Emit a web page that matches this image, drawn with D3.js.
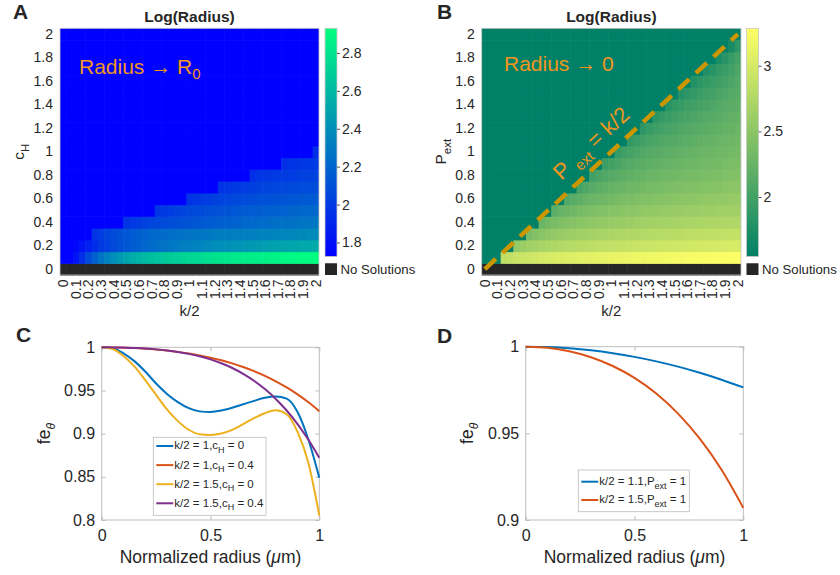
<!DOCTYPE html>
<html>
<head>
<meta charset="utf-8">
<script src="https://cdn.jsdelivr.net/npm/d3@7"></script>
<style>
  body { margin: 0; background: #fff; }
  text { font-family: "Liberation Sans", Arial, Helvetica, sans-serif; fill: #262626; }
</style>
</head>
<body>
<script>
// ---- data -------------------------------------------------------------
// heatmap grid: k/2 columns (0..2 by 0.05), c_H / P_ext rows (0..2 by 0.1)
const kHalf = [0,0.05,0.1,0.15,0.2,0.25,0.3,0.35,0.4,0.45,0.5,0.55,0.6,0.65,0.7,0.75,0.8,0.85,0.9,0.95,
  1,1.05,1.1,1.15,1.2,1.25,1.3,1.35,1.4,1.45,1.5,1.55,1.6,1.65,1.7,1.75,1.8,1.85,1.9,1.95,2];
const rowLevels = [0,0.1,0.2,0.3,0.4,0.5,0.6,0.7,0.8,0.9,1,1.1,1.2,1.3,1.4,1.5,1.6,1.7,1.8,1.9,2];
const kTicks = [0,0.1,0.2,0.3,0.4,0.5,0.6,0.7,0.8,0.9,1,1.1,1.2,1.3,1.4,1.5,1.6,1.7,1.8,1.9,2];
const rowTicks = [0,0.2,0.4,0.6,0.8,1,1.2,1.4,1.6,1.8,2];

// panel A: log(radius) vs k/2 and c_H. Row 0 = no solutions.
// each row lists its values up to k/2 = 2 (right aligned); cells further left sit at the R0 plateau
const plateauA = 1.726;
const rangeA = [1.726, 2.93];
const ticksA = [1.8, 2, 2.2, 2.4, 2.6, 2.8];
const logRadiusA = [
  [1.73,1.73,1.82,1.95,2.08,2.18,2.27,2.34,2.40,2.45,2.50,2.54,2.57,2.60,2.63,2.65,2.67,2.69,2.71,2.72,
   2.74,2.75,2.76,2.78,2.79,2.80,2.81,2.82,2.83,2.84,2.85,2.86,2.86,2.87,2.88,2.89,2.90,2.90,2.91,2.92,2.93], // c_H 0.1
  [1.73,1.73,1.76,1.82,1.88,1.94,1.99,2.03,2.07,2.10,2.13,2.16,2.18,2.21,2.23,2.25,2.27,2.29,2.30,2.32,
   2.33,2.35,2.36,2.37,2.39,2.40,2.41,2.42,2.43,2.44,2.45,2.46,2.47,2.48,2.49,2.50,2.50,2.51,2.52,2.53,2.54], // 0.2
  [1.97,2.01,2.05,2.08,2.11,2.13,2.15,2.17,2.19,2.21,2.22,2.23,2.24,2.25,2.26,2.27,2.28,2.29,2.29,2.30,
   2.31,2.31,2.32,2.32,2.33,2.33,2.34,2.34,2.35,2.35,2.36,2.36,2.37,2.37,2.38,2.38], // 0.3
  [1.97,1.99,2.01,2.03,2.05,2.06,2.08,2.09,2.10,2.11,2.12,2.13,2.14,2.15,2.16,2.17,2.18,2.19,2.20,2.21,
   2.22,2.23,2.23,2.24,2.25,2.26,2.26,2.27,2.28,2.28,2.29], // 0.4
  [1.97,1.99,2.01,2.03,2.04,2.06,2.07,2.08,2.09,2.10,2.11,2.12,2.13,2.14,2.15,2.16,2.16,2.17,2.18,2.18,
   2.19,2.20,2.20,2.21,2.21,2.22], // 0.5
  [1.96,1.98,2.00,2.01,2.03,2.04,2.05,2.06,2.07,2.08,2.09,2.10,2.10,2.11,2.12,2.12,2.13,2.13,2.14,2.14,2.15], // 0.6
  [1.96,1.98,1.99,2.00,2.01,2.02,2.03,2.04,2.05,2.05,2.06,2.07,2.07,2.08,2.08,2.09], // 0.7
  [1.95,1.97,1.98,1.99,2.00,2.01,2.01,2.02,2.03,2.03,2.04], // 0.8
  [1.95,1.96,1.97,1.98,1.99,2.00], // 0.9
  [1.95] // 1.0
];

// panel B: log(radius) vs k/2 and P_ext; teal plateau above P_ext = k/2
const plateauB = 1.547;
const rangeB = [1.547, 3.285];
const ticksB = [2, 2.5, 3];
const logRadiusB = [
  [2.85,2.88,2.91,2.93,2.95,2.97,2.99,3.01,3.02,3.04,3.05,3.06,3.08,3.09,3.10,3.11,3.12,3.13,3.14,3.15,
   3.16,3.17,3.18,3.19,3.19,3.20,3.21,3.22,3.22,3.23,3.24,3.24,3.25,3.26,3.26,3.27,3.27,3.28], // P 0.1
  [2.55,2.60,2.64,2.67,2.70,2.72,2.74,2.76,2.78,2.79,2.81,2.82,2.83,2.85,2.86,2.87,2.88,2.89,2.90,2.91,
   2.92,2.93,2.94,2.94,2.95,2.96,2.97,2.97,2.98,2.99,2.99,3.00,3.00,3.01,3.01,3.02], // 0.2
  [2.38,2.44,2.48,2.52,2.55,2.58,2.60,2.62,2.64,2.66,2.67,2.69,2.70,2.71,2.72,2.74,2.75,2.76,2.77,2.78,
   2.79,2.79,2.80,2.81,2.82,2.83,2.83,2.84,2.85,2.85,2.86,2.86,2.87,2.87], // 0.3
  [2.27,2.33,2.37,2.41,2.44,2.47,2.49,2.51,2.53,2.55,2.56,2.58,2.59,2.60,2.62,2.63,2.64,2.65,2.66,2.67,
   2.68,2.69,2.69,2.70,2.71,2.72,2.72,2.73,2.73,2.74,2.74,2.75], // 0.4
  [2.18,2.24,2.28,2.32,2.35,2.38,2.40,2.42,2.44,2.46,2.47,2.49,2.50,2.51,2.53,2.54,2.55,2.56,2.57,2.58,
   2.59,2.60,2.60,2.61,2.62,2.62,2.63,2.64,2.64,2.65], // 0.5
  [2.10,2.16,2.20,2.24,2.27,2.30,2.32,2.34,2.36,2.38,2.39,2.41,2.42,2.43,2.45,2.46,2.47,2.48,2.49,2.50,
   2.51,2.52,2.53,2.54,2.55,2.55,2.56,2.57], // 0.6
  [2.04,2.10,2.14,2.18,2.21,2.24,2.26,2.28,2.30,2.32,2.33,2.35,2.36,2.37,2.39,2.40,2.41,2.42,2.43,2.44,
   2.45,2.46,2.47,2.48,2.49,2.50], // 0.7
  [1.99,2.05,2.09,2.13,2.16,2.19,2.21,2.23,2.25,2.27,2.28,2.30,2.31,2.32,2.34,2.35,2.36,2.37,2.38,2.39,
   2.40,2.42,2.43,2.44], // 0.8
  [1.95,2.01,2.05,2.09,2.12,2.15,2.17,2.19,2.21,2.23,2.24,2.26,2.27,2.29,2.30,2.32,2.33,2.34,2.35,2.37,
   2.38,2.39], // 0.9
  [1.92,1.98,2.02,2.06,2.09,2.12,2.14,2.16,2.18,2.20,2.22,2.23,2.25,2.26,2.28,2.29,2.31,2.32,2.34,2.35], // 1.0
  [1.89,1.95,1.99,2.03,2.06,2.09,2.11,2.13,2.15,2.17,2.19,2.21,2.23,2.24,2.26,2.28,2.29,2.31], // 1.1
  [1.86,1.92,1.96,2.00,2.03,2.06,2.09,2.11,2.13,2.15,2.17,2.19,2.21,2.23,2.25,2.27], // 1.2
  [1.84,1.90,1.94,1.98,2.01,2.04,2.07,2.09,2.12,2.14,2.16,2.18,2.21,2.23], // 1.3
  [1.82,1.88,1.92,1.96,1.99,2.02,2.05,2.08,2.11,2.14,2.16,2.19], // 1.4
  [1.80,1.86,1.90,1.94,1.98,2.01,2.05,2.08,2.12,2.15], // 1.5
  [1.78,1.84,1.89,1.93,1.97,2.02,2.06,2.11], // 1.6
  [1.76,1.82,1.88,1.94,2.00,2.07], // 1.7
  [1.74,1.83,1.92,2.02], // 1.8
  [1.72,1.85] // 1.9
];

// panel C: fe_theta vs normalized radius
const radiusC = [0,0.05,0.1,0.15,0.2,0.25,0.3,0.35,0.4,0.45,0.5,0.55,0.6,0.65,0.7,0.75,0.8,0.85,0.9,0.95,1];
const feK1c0 =   [1,0.999,0.993,0.984,0.972,0.958,0.946,0.9365,0.9295,0.9258,0.9252,0.9268,0.9300,0.934,0.938,0.9415,0.943,0.9405,0.925,0.893,0.849];
const feK1c04 =  [1,0.9999,0.9996,0.9991,0.9984,0.9974,0.9962,0.9947,0.9928,0.9906,0.988,0.9849,0.9814,0.9772,0.9724,0.9669,0.9606,0.9535,0.9454,0.9363,0.926];
const feK15c0 =  [1,0.998,0.990,0.978,0.962,0.945,0.928,0.9145,0.9045,0.8993,0.8985,0.9002,0.9043,0.911,0.918,0.9237,0.927,0.9225,0.902,0.866,0.805];
const feK15c04 = [1,0.9999,0.9997,0.9992,0.9986,0.9976,0.9963,0.9946,0.9924,0.9896,0.986,0.9815,0.976,0.9693,0.9613,0.9516,0.9402,0.9268,0.9111,0.8929,0.872];
const labelsC = [["k/2 = 1,c", "H", " = 0"], ["k/2 = 1,c", "H", " = 0.4"], ["k/2 = 1.5,c", "H", " = 0"], ["k/2 = 1.5,c", "H", " = 0.4"]];

// panel D
const radiusD = [0,0.1,0.2,0.3,0.4,0.5,0.6,0.7,0.8,0.9,1];
const feK11P1 = [1,0.99977,0.99906,0.99789,0.99624,0.99413,0.99154,0.98849,0.98496,0.98097,0.9765];
const feK15P1 = [1,0.99934,0.99735,0.99391,0.98887,0.98198,0.97295,0.9614,0.9469,0.92896,0.907];
const labelsD = [["k/2 = 1.1,P", "ext", " = 1"], ["k/2 = 1.5,P", "ext", " = 1"]];

const lineColors = ["#0072BD", "#D95319", "#EDB120", "#7E2F8E"];
const ORANGE = "#F0961E";

// ---- drawing ----------------------------------------------------------
const svg = d3.select("body").append("svg").attr("width", 840).attr("height", 575);
const defs = svg.append("defs");

const winter = t => d3.rgb(0, 255 * t, 255 * (1 - 0.5 * t)).toString();
const summer = t => d3.rgb(255 * t, 255 * (0.5 + 0.5 * t), 102).toString();

// text with a subscript part: parts = [main, sub, rest]
function subText(sel, parts, size, subSize, italicSub) {
  sel.append("tspan").text(parts[0]);
  const s = sel.append("tspan").attr("font-size", subSize).attr("dy", size * 0.3).text(parts[1]);
  if (italicSub) s.attr("font-style", "italic");
  if (parts[2]) sel.append("tspan").attr("dy", -size * 0.3).text(parts[2]);
}

function drawHeatmap(o) {
  const g = svg.append("g");
  const x = d3.scaleBand().domain(kHalf).range([o.left, o.right]);
  const y = d3.scaleBand().domain(rowLevels).range([o.bottom, o.top]);
  const t = d3.scaleLinear().domain(o.range).range([0, 1]).clamp(true);

  const cells = [];
  rowLevels.forEach((r, i) => {
    const vals = i === 0 ? null : (o.rows[i - 1] || []);
    kHalf.forEach((k, j) => {
      let v = null;
      if (vals) {
        const off = kHalf.length - vals.length;
        v = j >= off ? vals[j - off] : o.plateau;
      }
      cells.push({ k: k, r: r, v: v });
    });
  });

  g.selectAll("rect.cell").data(cells).join("rect")
    .attr("class", "cell")
    .attr("x", d => x(d.k))
    .attr("y", d => y(d.r))
    .attr("width", d => x.bandwidth() + (d.k === 2 ? 0 : 0.6))
    .attr("height", d => y.bandwidth() + (d.r === 2 ? 0 : 0.6))
    .attr("fill", d => d.v === null ? "#262626" : o.cmap(t(d.v)));

  g.append("rect")
    .attr("x", o.left).attr("y", o.top)
    .attr("width", o.right - o.left).attr("height", o.bottom - o.top)
    .attr("fill", "none").attr("stroke", "#c8c8c8").attr("stroke-width", 0.8);

  // y axis
  const ya = g.append("g").attr("transform", `translate(${o.left},0)`)
    .call(d3.axisLeft(y).tickValues(rowTicks).tickSize(0).tickPadding(7).tickFormat(d => String(d)));
  ya.select(".domain").remove();
  ya.selectAll("text").attr("font-size", 14).attr("font-family", null);

  // x axis, labels rotated
  const xa = g.append("g").attr("transform", `translate(0,${o.bottom})`)
    .call(d3.axisBottom(x).tickValues(kTicks).tickSize(0).tickFormat(d => String(d)));
  xa.select(".domain").remove();
  xa.selectAll("text")
    .attr("font-size", 14).attr("font-family", null)
    .attr("transform", "rotate(-90)")
    .attr("text-anchor", "end")
    .attr("x", -4.5).attr("y", 0).attr("dy", "0.35em");

  g.append("text").attr("x", (o.left + o.right) / 2).attr("y", 316)
    .attr("text-anchor", "middle").attr("font-size", 15).text("k/2");

  // y label
  const yl = g.append("text")
    .attr("transform", `translate(${o.yLabelX},${(o.top + o.bottom) / 2}) rotate(-90)`)
    .attr("text-anchor", "middle").attr("font-size", 15.5);
  subText(yl, o.yLabel, 15.5, 11.5, false);

  // title
  g.append("text").attr("x", (o.left + o.right) / 2).attr("y", 22)
    .attr("text-anchor", "middle").attr("font-size", 15.5).attr("font-weight", "bold")
    .text("Log(Radius)");

  // panel letter
  g.append("text").attr("x", o.letterX).attr("y", 18.5)
    .attr("font-size", 21).attr("font-weight", "bold").text(o.letter);

  // colorbar
  const cbTop = o.top, cbBottom = 256.5, cbW = 12;
  const gid = "grad" + o.letter;
  const grad = defs.append("linearGradient").attr("id", gid)
    .attr("x1", 0).attr("y1", 1).attr("x2", 0).attr("y2", 0);
  grad.append("stop").attr("offset", 0).attr("stop-color", o.cmap(0));
  grad.append("stop").attr("offset", 1).attr("stop-color", o.cmap(1));
  g.append("rect").attr("x", o.cbX).attr("y", cbTop).attr("width", cbW).attr("height", cbBottom - cbTop)
    .attr("fill", `url(#${gid})`).attr("stroke", "#c8c8c8").attr("stroke-width", 0.8);
  const cy = d3.scaleLinear().domain(o.range).range([cbBottom, cbTop]);
  const cb = g.append("g").attr("transform", `translate(${o.cbX + cbW},0)`)
    .call(d3.axisRight(cy).tickValues(o.ticks).tickSize(3).tickPadding(2).tickFormat(d => String(d)));
  cb.select(".domain").remove();
  cb.selectAll("line").attr("stroke", "#555");
  cb.selectAll("text").attr("font-size", 14).attr("font-family", null);

  // no-solutions key
  g.append("rect").attr("x", o.cbX).attr("y", y(0)).attr("width", cbW).attr("height", y.bandwidth())
    .attr("fill", "#262626");
  g.append("text").attr("x", o.cbX + cbW + 3.5).attr("y", y(0) + y.bandwidth() / 2).attr("dy", "0.35em")
    .attr("font-size", 13.2).text("No Solutions");

  return { x: x, y: y, g: g };
}

const hA = drawHeatmap({
  letter: "A", letterX: 13, left: 60, right: 319, top: 28.3, bottom: 275,
  rows: logRadiusA, plateau: plateauA, range: rangeA, ticks: ticksA, cmap: winter,
  cbX: 325, yLabel: ["c", "H", ""], yLabelX: 24
});

const hB = drawHeatmap({
  letter: "B", letterX: 437, left: 481.7, right: 741, top: 28.3, bottom: 275,
  rows: logRadiusB, plateau: plateauB, range: rangeB, ticks: ticksB, cmap: summer,
  cbX: 746.5, yLabel: ["P", "ext", ""], yLabelX: 446
});

// annotations
const tA = hA.g.append("text").attr("x", 79).attr("y", 74).attr("font-size", 21).style("fill", ORANGE);
tA.append("tspan").text("Radius \u2192 R");
tA.append("tspan").attr("font-size", 15).attr("dy", 5).text("0");

hB.g.append("text").attr("x", 504).attr("y", 71).attr("font-size", 21).style("fill", ORANGE)
  .text("Radius \u2192 0");

// P_ext = k/2 dashed line
const cx = k => hB.x(k) + hB.x.bandwidth() / 2;
const cyB = p => hB.y(p) + hB.y.bandwidth() / 2;
hB.g.append("line")
  .attr("x1", cx(0)).attr("y1", cyB(0)).attr("x2", cx(2)).attr("y2", cyB(2))
  .attr("stroke", "#CC9600").attr("stroke-width", 4.5).attr("stroke-dasharray", "15,9");
const ang = Math.atan2(cyB(2) - cyB(0), cx(2) - cx(0)) * 180 / Math.PI;
const diag = hB.g.append("text")
  .attr("transform", `translate(591,143) rotate(${ang})`)
  .attr("text-anchor", "middle").attr("dy", "0.35em").attr("font-size", 22).style("fill", ORANGE);
diag.append("tspan").text("P ");
diag.append("tspan").attr("font-size", 15).attr("dy", 6).text("ext");
diag.append("tspan").attr("dy", -6).text(" = k/2");

// ---- line panels ------------------------------------------------------
function drawLines(o) {
  const g = svg.append("g");
  const x = d3.scaleLinear().domain([0, 1]).range([o.left, o.right]);
  const y = d3.scaleLinear().domain(o.yDomain).range([o.bottom, o.top]);
  const axisColor = "#bdbdbd";

  g.append("rect").attr("x", o.left).attr("y", o.top)
    .attr("width", o.right - o.left).attr("height", o.bottom - o.top)
    .attr("fill", "none").attr("stroke", axisColor).attr("stroke-width", 1);

  const fmt = d => String(d);
  const left = g.append("g").attr("transform", `translate(${o.left},0)`)
    .call(d3.axisLeft(y).tickValues(o.yTicks).tickSize(-4).tickPadding(6.5).tickFormat(fmt));
  const bottom = g.append("g").attr("transform", `translate(0,${o.bottom})`)
    .call(d3.axisBottom(x).tickValues([0, 0.5, 1]).tickSize(-4).tickPadding(10).tickFormat(fmt));
  const right = g.append("g").attr("transform", `translate(${o.right},0)`)
    .call(d3.axisRight(y).tickValues(o.yTicks).tickSize(-4).tickFormat(""));
  const top = g.append("g").attr("transform", `translate(0,${o.top})`)
    .call(d3.axisTop(x).tickValues([0, 0.5, 1]).tickSize(-4).tickFormat(""));
  [left, bottom, right, top].forEach(a => {
    a.select(".domain").remove();
    a.selectAll("line").attr("stroke", axisColor);
    a.selectAll("text").attr("font-size", 16).attr("font-family", null);
  });

  const line = d3.line().x(d => x(d[0])).y(d => y(d[1])).curve(d3.curveMonotoneX);
  o.series.forEach((s, i) => {
    g.append("path").datum(o.xs.map((v, j) => [v, s[j]]))
      .attr("d", line).attr("fill", "none")
      .attr("stroke", lineColors[i]).attr("stroke-width", 2);
  });

  // axis labels
  const xl = g.append("text").attr("x", (o.left + o.right) / 2).attr("y", 563)
    .attr("text-anchor", "middle").attr("font-size", 17.5);
  xl.append("tspan").text("Normalized radius (");
  xl.append("tspan").attr("font-style", "italic").text("\u03bc");
  xl.append("tspan").text("m)");

  const yl = g.append("text")
    .attr("transform", `translate(${o.yLabelX},${(o.top + o.bottom) / 2}) rotate(-90)`)
    .attr("text-anchor", "middle").attr("font-size", 17.5);
  subText(yl, ["fe", "\u03b8", ""], 17.5, 12, true);

  g.append("text").attr("x", o.letterX).attr("y", o.letterY)
    .attr("font-size", 21).attr("font-weight", "bold").text(o.letter);

  // legend
  const lg = g.append("g");
  lg.append("rect").attr("x", o.legend[0]).attr("y", o.legend[1])
    .attr("width", o.legend[2]).attr("height", o.legend[3])
    .attr("fill", "#fff").attr("stroke", "#bdbdbd").attr("stroke-width", 0.8);
  o.labels.forEach((lab, i) => {
    const ly = o.legend[1] + o.legendFirst + i * o.legendStep;
    lg.append("line").attr("x1", o.legend[0] + 3).attr("x2", o.legend[0] + 20)
      .attr("y1", ly).attr("y2", ly).attr("stroke", lineColors[i]).attr("stroke-width", 2);
    const tt = lg.append("text").attr("x", o.legend[0] + 21).attr("y", ly).attr("dy", "0.3em")
      .attr("font-size", 11.5);
    subText(tt, lab, 11.5, 9, false);
  });
}

drawLines({
  letter: "C", letterX: 16, letterY: 342,
  left: 101.7, right: 319.3, top: 347.3, bottom: 520,
  yDomain: [0.8, 1], yTicks: [0.8, 0.85, 0.9, 0.95, 1],
  xs: radiusC, series: [feK1c0, feK1c04, feK15c0, feK15c04],
  labels: labelsC, yLabelX: 50,
  legend: [153.3, 437.3, 112.7, 78], legendFirst: 8.7, legendStep: 19.1
});

drawLines({
  letter: "D", letterX: 437, letterY: 343,
  left: 525.7, right: 743.3, top: 346.7, bottom: 520,
  yDomain: [0.9, 1], yTicks: [0.9, 0.95, 1],
  xs: radiusD, series: [feK11P1, feK15P1],
  labels: labelsD, yLabelX: 473,
  legend: [578.3, 470, 111, 41.7], legendFirst: 11.7, legendStep: 18.3
});
</script>
</body>
</html>
